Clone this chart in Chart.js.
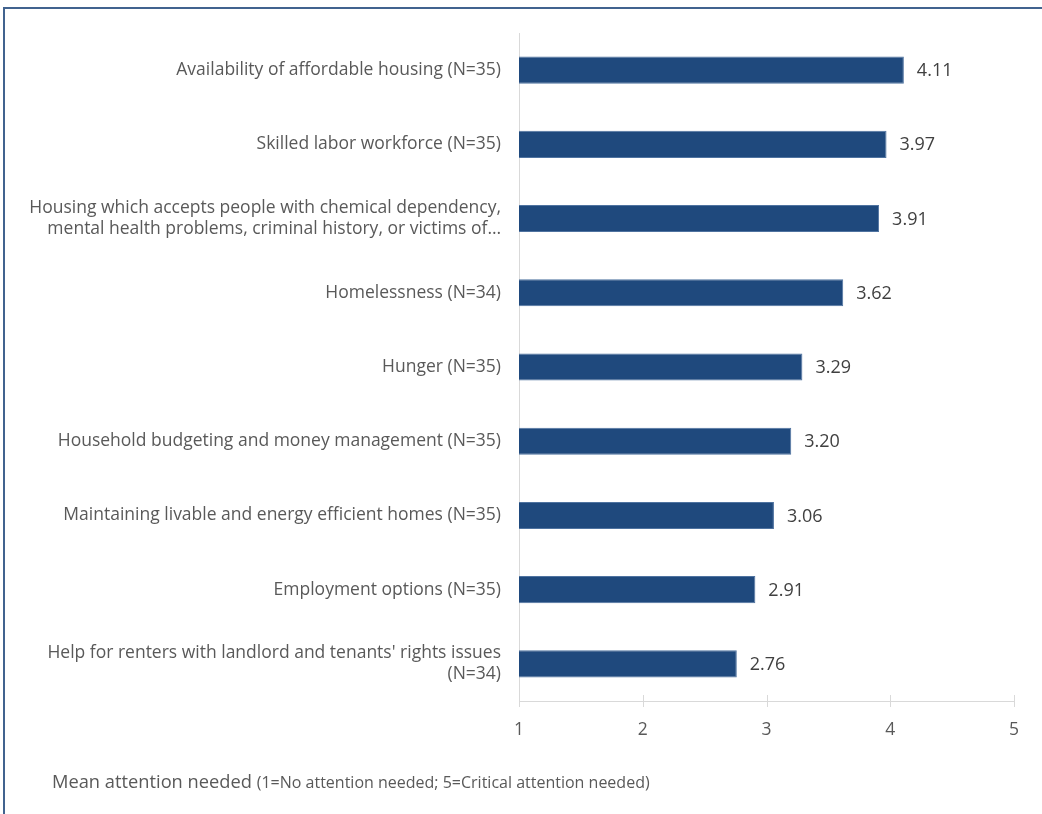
<!DOCTYPE html>
<html>
<head>
<meta charset="utf-8">
<script src="https://cdn.jsdelivr.net/npm/chart.js@4"></script>
<style>
  html, body { margin: 0; padding: 0; background: #fff; }
  #wrap { position: relative; width: 1042px; height: 814px; overflow: hidden; }
  #frame {
    position: absolute; left: 3px; top: 7px; width: 1100px; height: 900px;
    border: 2px solid #41638f; box-sizing: border-box;
  }
  #chart { position: absolute; left: 0; top: 0; }
  #xtitle {
    position: absolute; left: 52px; top: 768px; white-space: nowrap;
    font-family: 'Open Sans', sans-serif; color: #595959; font-size: 18.3px;
  }
  #xtitle span { font-size: 16px; }
</style>
</head>
<body>
<div id="wrap">
  <div id="frame"></div>
  <canvas id="chart" width="1042" height="814"></canvas>
  <div id="xtitle">Mean attention needed <span>(1=No attention needed; 5=Critical attention needed)</span></div>
</div>
<script>
const categories = [
    'Availability of affordable housing (N=35)',
    'Skilled labor workforce (N=35)',
    ['Housing which accepts people with chemical dependency,', 'mental health problems, criminal history, or victims of\u2026'],
    'Homelessness (N=34)',
    'Hunger (N=35)',
    'Household budgeting and money management (N=35)',
    'Maintaining livable and energy efficient homes (N=35)',
    'Employment options (N=35)',
    ['Help for renters with landlord and tenants\' rights issues', '(N=34)']
];
const meanScores = [4.11, 3.97, 3.91, 3.62, 3.29, 3.20, 3.06, 2.91, 2.76];
const xTicks = [1, 2, 3, 4, 5];

const FONT = "'Open Sans', sans-serif";
const AXIS_LEFT = 519;

// value labels to the right of each bar
const barValues = {
    id: 'barValues',
    afterDatasetsDraw(chart) {
        const ctx = chart.ctx;
        const meta = chart.getDatasetMeta(0);
        ctx.save();
        ctx.font = '18px ' + FONT;
        ctx.fillStyle = '#404040';
        ctx.textAlign = 'left';
        ctx.textBaseline = 'middle';
        meta.data.forEach((bar, i) => {
            ctx.fillText(meanScores[i].toFixed(2), bar.x + 13, bar.y + 1);
        });
        ctx.restore();
    }
};

// tick marks crossing the x axis line
const crossTicks = {
    id: 'crossTicks',
    afterDraw(chart) {
        const ctx = chart.ctx;
        const x = chart.scales.x;
        const y0 = chart.chartArea.bottom;
        ctx.save();
        ctx.strokeStyle = '#d9d9d9';
        ctx.lineWidth = 1;
        xTicks.forEach(v => {
            const px = Math.round(x.getPixelForValue(v)) + 0.5;
            ctx.beginPath();
            ctx.moveTo(px, y0 - 6);
            ctx.lineTo(px, y0 + 6);
            ctx.stroke();
        });
        ctx.restore();
    }
};

new Chart(document.getElementById('chart'), {
    type: 'bar',
    data: {
        labels: categories,
        datasets: [{
            data: meanScores,
            backgroundColor: '#1f497d',
            borderColor: '#4f73a0',
            borderWidth: 1,
            barPercentage: 0.365,
            categoryPercentage: 1,
            base: 1
        }]
    },
    options: {
        indexAxis: 'y',
        responsive: false,
        animation: false,
        layout: { padding: { top: 33, right: 28, left: 0, bottom: 0 } },
        plugins: {
            legend: { display: false },
            tooltip: { enabled: false }
        },
        scales: {
            x: {
                min: 1,
                max: 5,
                afterFit(scale) { scale.height = 113; },
                afterBuildTicks(scale) { scale.ticks = xTicks.map(v => ({ value: v })); },
                grid: { display: false },
                border: { display: true, color: '#d9d9d9', width: 1 },
                ticks: {
                    padding: 11,
                    color: '#595959',
                    font: { family: FONT, size: 17.5 }
                }
            },
            y: {
                afterFit(scale) { scale.width = AXIS_LEFT; },
                grid: { display: false },
                border: { display: true, color: '#d9d9d9', width: 1 },
                ticks: {
                    padding: 10,
                    color: '#595959',
                    font: { family: FONT, size: 17.5, lineHeight: 1.2 }
                }
            }
        }
    },
    plugins: [barValues, crossTicks]
});
</script>
</body>
</html>
